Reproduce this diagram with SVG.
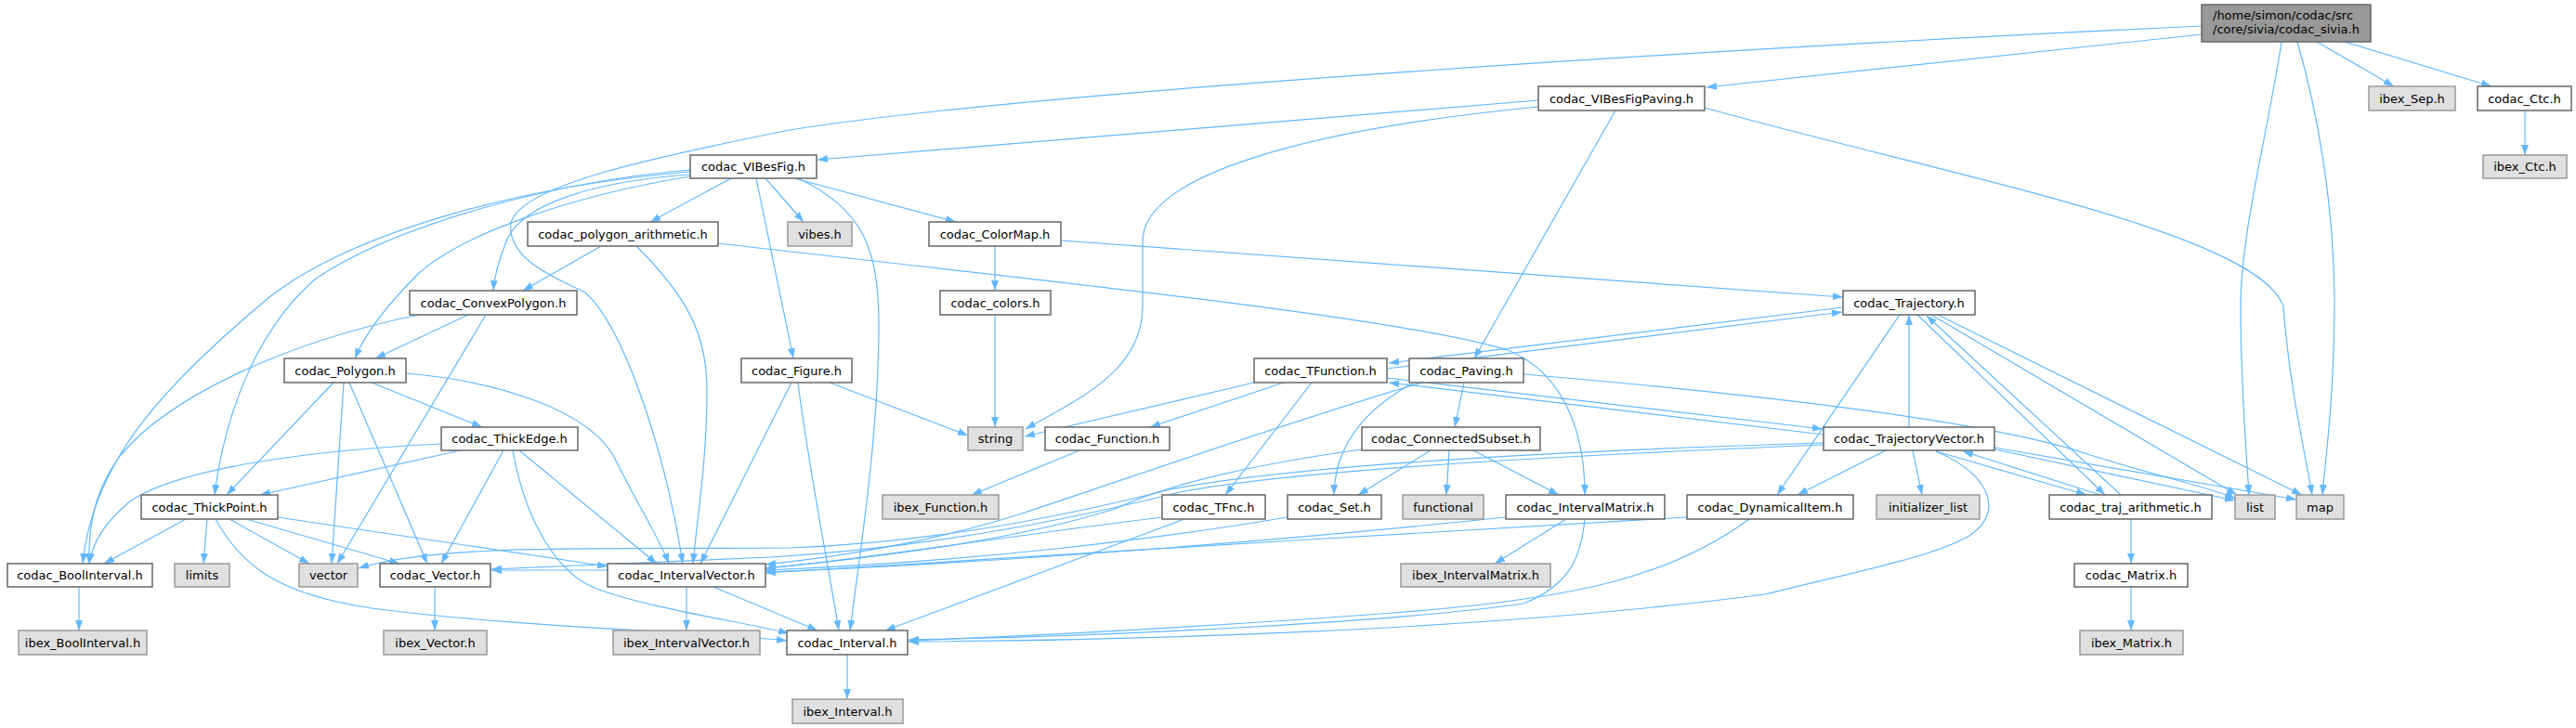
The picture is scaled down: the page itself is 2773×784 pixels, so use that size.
<svg xmlns="http://www.w3.org/2000/svg" width="2773" height="784" viewBox="0 0 2773 784">
<defs>
<marker id="a" markerWidth="11" markerHeight="8" refX="11" refY="4" orient="auto" markerUnits="userSpaceOnUse"><path d="M0,0 L11,4 L0,8 z" fill="#63b8ff"/></marker>
</defs>
<style>
.n rect{fill:#ffffff;stroke:#666666;stroke-width:1.5}
.g rect{fill:#e0e0e0;stroke:#999999;stroke-width:1.5}
.r rect{fill:#999999;stroke:#666666;stroke-width:1.5}
text{font-family:"DejaVu Sans","Liberation Sans",sans-serif;font-size:13px;fill:#000000;text-anchor:middle}
.r text{text-anchor:start}
#edges path{fill:none;stroke:#63b8ff;stroke-width:1.2;marker-end:url(#a)}
</style>
<rect width="2773" height="784" fill="#ffffff"/>
<g id="edges">
<path d="M2370,37 L1837,94"/>
<path d="M2370,28 C1800,55 1100,100 850,140 C700,170 560,200 550,240 C545,280 600,300 630,315 C670,350 715,480 735,607"/>
<path d="M2456,45 C2440,150 2412,250 2412,330 C2412,420 2418,480 2421,533"/>
<path d="M2473,45 C2495,120 2512,220 2513,320 C2513,420 2505,480 2500,533"/>
<path d="M2494,45 L2577,93"/>
<path d="M2524,45 L2682,93"/>
<path d="M2718,119 L2718,167"/>
<path d="M1656,108 L880,172"/>
<path d="M1656,115 C1400,140 1230,190 1230,260 L1230,330 C1230,400 1160,430 1104,462"/>
<path d="M1739,119 L1587,386"/>
<path d="M1835,116 C2100,190 2430,250 2458,330 C2465,420 2480,480 2489,533"/>
<path d="M787,192 L700,239"/>
<path d="M824,192 L865,239"/>
<path d="M855,192 L1029,239"/>
<path d="M814,192 L854,386"/>
<path d="M859,192 C930,225 946,270 946,350 C946,470 925,600 915,679"/>
<path d="M743,188 C640,195 560,220 545,260 C537,280 532,300 531,313"/>
<path d="M743,190 C620,210 500,250 450,295 C420,325 395,355 382,386"/>
<path d="M743,183 C600,195 430,240 340,300 C270,360 240,460 231,533"/>
<path d="M743,185 C560,200 380,250 290,320 C170,420 100,500 89,607"/>
<path d="M647,265 L563,313"/>
<path d="M685,265 C740,320 761,360 761,420 C761,500 750,560 746,607"/>
<path d="M773,262 C1100,300 1500,340 1623,377 C1680,400 1706,460 1706,533"/>
<path d="M1071,265 L1071,313"/>
<path d="M1142,259 L1984,320"/>
<path d="M1071,339 L1071,460"/>
<path d="M504,339 L404,386"/>
<path d="M523,339 L363,607"/>
<path d="M451,339 C300,370 180,430 130,490 C100,530 95,570 96,607"/>
<path d="M400,412 L519,460"/>
<path d="M359,412 L244,533"/>
<path d="M370,412 L357,607"/>
<path d="M376,412 L460,607"/>
<path d="M437,402 C530,410 640,440 665,500 C690,550 710,580 720,607"/>
<path d="M496,485 L280,533"/>
<path d="M475,478 C330,485 190,505 140,540 C110,565 100,585 96,607"/>
<path d="M542,485 L475,607"/>
<path d="M559,485 L707,607"/>
<path d="M552,485 C565,560 600,620 645,635 C700,655 800,670 849,682"/>
<path d="M200,559 L112,607"/>
<path d="M223,559 L219,607"/>
<path d="M247,559 L333,607"/>
<path d="M265,559 L430,607"/>
<path d="M299,557 L654,610"/>
<path d="M232,559 C260,610 300,640 400,655 C550,675 750,680 847,690"/>
<path d="M893,412 L1042,469"/>
<path d="M852,412 L754,607"/>
<path d="M859,412 C870,500 890,600 903,679"/>
<path d="M1350,412 L1103,470"/>
<path d="M1382,412 L1238,460"/>
<path d="M1412,412 L1319,533"/>
<path d="M1493,397 L1983,336"/>
<path d="M1984,331 L1495,391"/>
<path d="M1493,407 L1962,462"/>
<path d="M1963,468 L1495,412"/>
<path d="M1522,412 C1470,440 1437,480 1436,533"/>
<path d="M1576,412 L1566,460"/>
<path d="M1640,403 C1900,425 2150,455 2250,490 C2330,515 2390,528 2406,537"/>
<path d="M1531,412 C1400,450 1200,520 1100,553 C1000,585 900,600 824,608"/>
<path d="M1540,485 L1462,533"/>
<path d="M1560,485 L1557,533"/>
<path d="M1586,485 L1678,533"/>
<path d="M1466,484 C1350,500 1260,520 1200,548 C1100,580 950,600 824,612"/>
<path d="M2055,460 L2055,339"/>
<path d="M2030,485 L1935,533"/>
<path d="M2059,485 L2069,533"/>
<path d="M2084,486 L2246,533"/>
<path d="M2261,533 L2113,486"/>
<path d="M2143,483 L2406,539"/>
<path d="M2147,482 L2472,538"/>
<path d="M2084,486 C2140,510 2160,550 2120,577 C2080,600 2000,615 1900,640 C1600,680 1200,690 978,691"/>
<path d="M1963,477 C1700,485 1400,500 1260,527 C1150,555 1000,585 850,590 C650,592 470,585 386,612"/>
<path d="M1963,479 C1700,490 1400,505 1270,530 C1150,560 1000,590 830,600 C700,605 600,610 529,613"/>
<path d="M2045,339 L1913,533"/>
<path d="M2064,339 L2266,533"/>
<path d="M2283,533 L2074,340"/>
<path d="M2079,339 L2408,533"/>
<path d="M2086,339 L2478,533"/>
<path d="M1816,557 C1500,575 1100,600 824,617"/>
<path d="M1883,559 C1800,620 1700,645 1500,660 C1300,675 1100,685 978,690"/>
<path d="M1686,559 L1609,607"/>
<path d="M1706,559 C1702,600 1690,630 1640,650 C1500,670 1200,685 978,689"/>
<path d="M1621,557 C1400,580 1100,605 824,616"/>
<path d="M1386,557 C1250,580 1050,605 824,614"/>
<path d="M1252,557 C1100,575 950,600 824,612"/>
<path d="M1275,559 L953,679"/>
<path d="M1162,485 L1046,533"/>
<path d="M739,632 L739,679"/>
<path d="M768,632 L880,679"/>
<path d="M654,614 L529,614"/>
<path d="M468,632 L468,679"/>
<path d="M85,632 L85,679"/>
<path d="M912,705 L912,753"/>
<path d="M2294,559 L2294,607"/>
<path d="M2294,632 L2294,679"/>
</g>
<g id="root" class="r"><rect x="2370" y="5" width="182" height="40"/><text x="2382" y="21">/home/simon/codac/src</text><text x="2382" y="36">/core/sivia/codac_sivia.h</text></g>
<g id="n_VIBesFigPaving" class="n"><rect x="1656" y="93" width="179" height="26"/><text x="1745.5" y="110.5">codac_VIBesFigPaving.h</text></g>
<g id="n_ibex_Sep" class="g"><rect x="2550" y="93" width="93" height="26"/><text x="2596.5" y="110.5">ibex_Sep.h</text></g>
<g id="n_Ctc" class="n"><rect x="2667" y="93" width="101" height="26"/><text x="2717.5" y="110.5">codac_Ctc.h</text></g>
<g id="n_ibex_Ctc" class="g"><rect x="2673" y="167" width="90" height="25"/><text x="2718" y="184">ibex_Ctc.h</text></g>
<g id="n_VIBesFig" class="n"><rect x="743" y="167" width="136" height="25"/><text x="811" y="184">codac_VIBesFig.h</text></g>
<g id="n_polygon_arithmetic" class="n"><rect x="568" y="239" width="205" height="26"/><text x="670.5" y="256.5">codac_polygon_arithmetic.h</text></g>
<g id="n_vibes" class="g"><rect x="848" y="239" width="69" height="26"/><text x="882.5" y="256.5">vibes.h</text></g>
<g id="n_ColorMap" class="n"><rect x="1000" y="239" width="142" height="26"/><text x="1071" y="256.5">codac_ColorMap.h</text></g>
<g id="n_ConvexPolygon" class="n"><rect x="441" y="313" width="180" height="26"/><text x="531" y="330.5">codac_ConvexPolygon.h</text></g>
<g id="n_colors" class="n"><rect x="1012" y="313" width="119" height="26"/><text x="1071.5" y="330.5">codac_colors.h</text></g>
<g id="n_Trajectory" class="n"><rect x="1984" y="313" width="142" height="26"/><text x="2055" y="330.5">codac_Trajectory.h</text></g>
<g id="n_Polygon" class="n"><rect x="306" y="386" width="131" height="26"/><text x="371.5" y="403.5">codac_Polygon.h</text></g>
<g id="n_Figure" class="n"><rect x="798" y="386" width="119" height="26"/><text x="857.5" y="403.5">codac_Figure.h</text></g>
<g id="n_TFunction" class="n"><rect x="1350" y="386" width="143" height="26"/><text x="1421.5" y="403.5">codac_TFunction.h</text></g>
<g id="n_Paving" class="n"><rect x="1517" y="386" width="123" height="26"/><text x="1578.5" y="403.5">codac_Paving.h</text></g>
<g id="n_ThickEdge" class="n"><rect x="475" y="460" width="147" height="25"/><text x="548.5" y="477">codac_ThickEdge.h</text></g>
<g id="n_string" class="g"><rect x="1042" y="460" width="59" height="25"/><text x="1071.5" y="477">string</text></g>
<g id="n_Function" class="n"><rect x="1125" y="460" width="134" height="25"/><text x="1192" y="477">codac_Function.h</text></g>
<g id="n_ConnectedSubset" class="n"><rect x="1466" y="460" width="192" height="25"/><text x="1562" y="477">codac_ConnectedSubset.h</text></g>
<g id="n_TrajectoryVector" class="n"><rect x="1963" y="460" width="184" height="25"/><text x="2055" y="477">codac_TrajectoryVector.h</text></g>
<g id="n_ThickPoint" class="n"><rect x="152" y="533" width="147" height="26"/><text x="225.5" y="550.5">codac_ThickPoint.h</text></g>
<g id="n_ibex_Function" class="g"><rect x="950" y="533" width="125" height="26"/><text x="1012.5" y="550.5">ibex_Function.h</text></g>
<g id="n_TFnc" class="n"><rect x="1251" y="533" width="111" height="26"/><text x="1306.5" y="550.5">codac_TFnc.h</text></g>
<g id="n_Set" class="n"><rect x="1386" y="533" width="101" height="26"/><text x="1436.5" y="550.5">codac_Set.h</text></g>
<g id="n_functional" class="g"><rect x="1510" y="533" width="87" height="26"/><text x="1553.5" y="550.5">functional</text></g>
<g id="n_IntervalMatrix" class="n"><rect x="1621" y="533" width="171" height="26"/><text x="1706.5" y="550.5">codac_IntervalMatrix.h</text></g>
<g id="n_DynamicalItem" class="n"><rect x="1816" y="533" width="179" height="26"/><text x="1905.5" y="550.5">codac_DynamicalItem.h</text></g>
<g id="n_initializer_list" class="g"><rect x="2020" y="533" width="111" height="26"/><text x="2075.5" y="550.5">initializer_list</text></g>
<g id="n_traj_arithmetic" class="n"><rect x="2206" y="533" width="175" height="26"/><text x="2293.5" y="550.5">codac_traj_arithmetic.h</text></g>
<g id="n_list" class="g"><rect x="2406" y="533" width="43" height="26"/><text x="2427.5" y="550.5">list</text></g>
<g id="n_map" class="g"><rect x="2472" y="533" width="51" height="26"/><text x="2497.5" y="550.5">map</text></g>
<g id="n_BoolInterval" class="n"><rect x="8" y="607" width="156" height="25"/><text x="86" y="624">codac_BoolInterval.h</text></g>
<g id="n_limits" class="g"><rect x="188" y="607" width="59" height="25"/><text x="217.5" y="624">limits</text></g>
<g id="n_vector" class="g"><rect x="322" y="607" width="63" height="25"/><text x="353.5" y="624">vector</text></g>
<g id="n_Vector" class="n"><rect x="409" y="607" width="119" height="25"/><text x="468.5" y="624">codac_Vector.h</text></g>
<g id="n_IntervalVector" class="n"><rect x="654" y="607" width="170" height="25"/><text x="739" y="624">codac_IntervalVector.h</text></g>
<g id="n_ibex_IntervalMatrix" class="g"><rect x="1508" y="607" width="161" height="25"/><text x="1588.5" y="624">ibex_IntervalMatrix.h</text></g>
<g id="n_Matrix" class="n"><rect x="2233" y="607" width="122" height="25"/><text x="2294" y="624">codac_Matrix.h</text></g>
<g id="n_ibex_BoolInterval" class="g"><rect x="20" y="679" width="138" height="26"/><text x="89" y="696.5">ibex_BoolInterval.h</text></g>
<g id="n_ibex_Vector" class="g"><rect x="413" y="679" width="111" height="26"/><text x="468.5" y="696.5">ibex_Vector.h</text></g>
<g id="n_ibex_IntervalVector" class="g"><rect x="660" y="679" width="158" height="26"/><text x="739" y="696.5">ibex_IntervalVector.h</text></g>
<g id="n_Interval" class="n"><rect x="847" y="679" width="130" height="26"/><text x="912" y="696.5">codac_Interval.h</text></g>
<g id="n_ibex_Matrix" class="g"><rect x="2239" y="679" width="111" height="26"/><text x="2294.5" y="696.5">ibex_Matrix.h</text></g>
<g id="n_ibex_Interval" class="g"><rect x="853" y="753" width="119" height="26"/><text x="912.5" y="770.5">ibex_Interval.h</text></g>
</svg>
